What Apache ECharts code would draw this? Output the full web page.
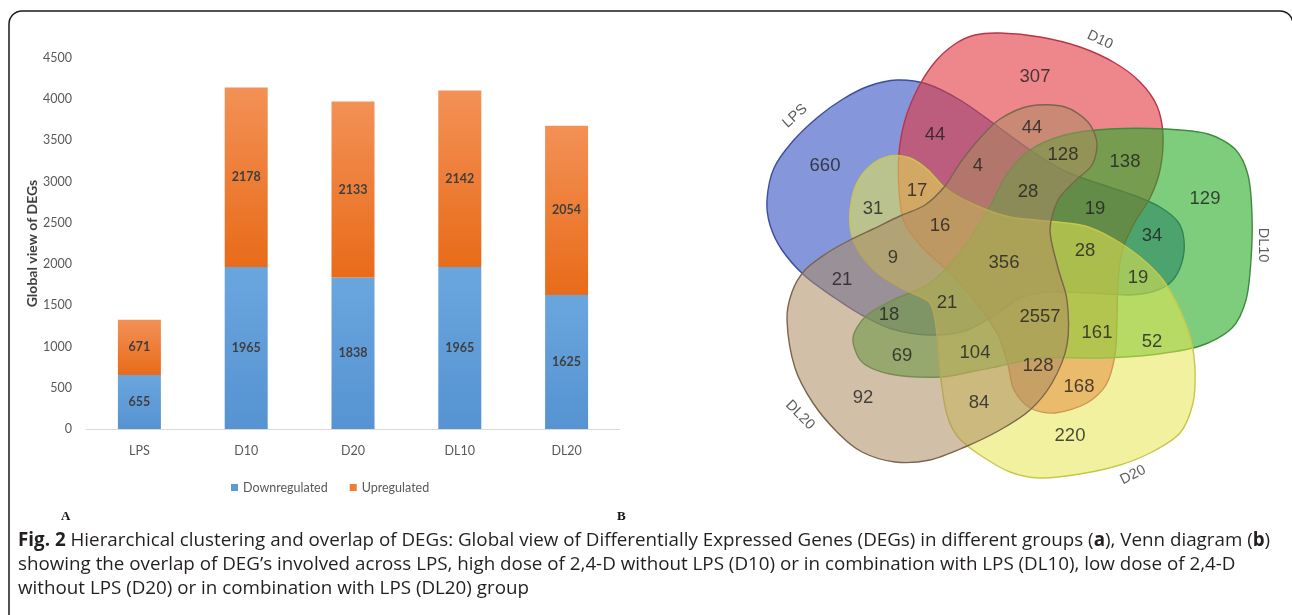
<!DOCTYPE html>
<html>
<head>
<meta charset="utf-8">
<script src="https://cdn.jsdelivr.net/npm/echarts@6/dist/echarts.min.js"></script>
<style>
  html, body { margin: 0; padding: 0; background: #ffffff; }
  #chart { width: 1292px; height: 615px; }
</style>
</head>
<body>
<div id="chart"></div>
<script>
// ---- Panel A: number of DEGs per group ----
const groups = ['LPS', 'D10', 'D20', 'DL10', 'DL20'];
const downregulated = [655, 1965, 1838, 1965, 1625];
const upregulated = [671, 2178, 2133, 2142, 2054];
const yTickValues = [0, 500, 1000, 1500, 2000, 2500, 3000, 3500, 4000, 4500];

// ---- Panel B: five-set Venn diagram ----
const vennSets = ['LPS', 'D10', 'DL10', 'D20', 'DL20'];
const vennCounts = [660, 307, 129, 220, 92, 44, 4, 31, 17, 16, 9, 21, 18, 21, 69, 104, 84,
                    356, 44, 128, 138, 28, 19, 34, 28, 19, 2557, 161, 52, 128, 168];

// Where each Venn count is written (pixel-sized units of the hidden Venn axes)
const vennCountXY = [
  [825, 166], [1035, 77], [1205, 199], [1070, 436], [863, 398], [935, 135], [978, 166],
  [873, 209], [917, 191], [940, 226], [893, 258], [842, 280], [889, 315], [947, 303],
  [902, 356], [975, 353], [979, 403], [1004, 263], [1032, 128], [1063, 155], [1125, 162],
  [1028, 192], [1095, 209], [1152, 236], [1085, 251], [1138, 278], [1040, 317], [1097, 333],
  [1152, 342], [1038, 366], [1079, 387]
];
// Set-name placement and text rotation (degrees)
const vennNameXY = [[795, 116], [1100, 40], [1263, 245], [1133, 475], [800, 415]];
const vennNameRotate = [42, -25, -90, 27, -45];

// Outline of each set, traced clockwise (same units as the Venn axes)
const vennOutlines = [
  // LPS
  [[767, 200], [774, 168], [793, 141], [818, 117], [843, 99], [869, 86], [897, 80], [927, 84],
   [960, 100], [993, 123], [1030, 150], [1067, 172], [1100, 184], [1133, 195], [1160, 207],
   [1178, 222], [1184, 240], [1182, 262], [1172, 281], [1155, 291], [1130, 295], [1090, 293],
   [1050, 292], [1020, 298], [995, 315], [965, 331], [930, 335], [892, 329], [860, 314],
   [835, 298], [805, 276], [782, 250], [770, 225]],
  // D10
  [[955, 44], [975, 35], [1000, 33], [1040, 37], [1080, 47], [1115, 63], [1140, 82], [1157, 106],
   [1163, 135], [1160, 170], [1150, 198], [1135, 222], [1123, 248], [1118, 280], [1117, 320],
   [1115, 355], [1106, 385], [1087, 403], [1055, 413], [1030, 408], [1014, 390], [1008, 365],
   [998, 335], [978, 305], [950, 273], [922, 247], [904, 222], [899, 190], [899, 153],
   [905, 120], [918, 88], [935, 62]],
  // DL10
  [[853, 338], [866, 316], [893, 300], [930, 283], [962, 250], [988, 210], [1007, 174],
   [1030, 150], [1065, 135], [1110, 129], [1165, 129], [1208, 134], [1235, 149], [1248, 175],
   [1252, 215], [1251, 260], [1246, 300], [1232, 328], [1200, 346], [1150, 355], [1100, 358],
   [1040, 358], [1000, 366], [975, 371], [940, 377], [890, 374], [862, 362]],
  // D20
  [[850, 212], [856, 185], [870, 166], [890, 156], [910, 158], [928, 170], [945, 188],
   [975, 205], [1010, 217], [1057, 222], [1085, 226], [1112, 238], [1140, 257], [1163, 280],
   [1180, 310], [1191, 340], [1195, 370], [1193, 403], [1180, 433], [1152, 452], [1120, 465],
   [1080, 474], [1040, 478], [1010, 472], [980, 455], [958, 437], [947, 415], [941, 380],
   [937, 335], [930, 303], [905, 290], [880, 275], [862, 256], [852, 236]],
  // DL20
  [[787, 320], [792, 292], [805, 270], [827, 253], [850, 240], [873, 229], [900, 216],
   [925, 205], [945, 186], [960, 163], [980, 138], [1000, 119], [1030, 106], [1065, 107],
   [1088, 122], [1097, 143], [1092, 165], [1075, 181], [1058, 200], [1050, 230], [1058, 268],
   [1067, 300], [1067, 345], [1052, 383], [1030, 410], [1000, 430], [965, 447], [930, 460],
   [895, 462], [862, 452], [838, 433], [813, 403], [795, 368]]
];
const vennFill = ['rgba(52,82,193,0.6)', 'rgba(227,55,63,0.6)', 'rgba(38,172,38,0.6)',
                  'rgba(230,230,80,0.55)', 'rgba(172,138,97,0.55)'];
const vennStroke = ['#3b4e9e', '#b8364a', '#3d8c3d', '#c9c74a', '#7b654d'];

const barFont = 'Lato, "Open Sans", sans-serif';
const vennFont = '"Liberation Sans", Arial, sans-serif';
const blueFill = new echarts.graphic.LinearGradient(0, 0, 0, 1, [
  { offset: 0, color: '#6aa6de' }, { offset: 1, color: '#5593d2' }]);
const orangeFill = new echarts.graphic.LinearGradient(0, 0, 0, 1, [
  { offset: 0, color: '#f39156' }, { offset: 1, color: '#e86b19' }]);
const barLabel = {
  show: true, position: 'inside', color: '#3f3f3f', fontFamily: barFont,
  fontSize: 12.5, fontWeight: 'bold'
};

const chart = echarts.init(document.getElementById('chart'), null, { renderer: 'canvas' });

chart.setOption({
  animation: false,
  backgroundColor: '#ffffff',
  grid: [
    { left: 86, top: 58, width: 534, height: 371 },
    { left: 740, top: 0, width: 550, height: 615 }
  ],
  xAxis: [
    {
      type: 'category', gridIndex: 0, data: groups,
      axisLine: { lineStyle: { color: '#d9d9d9', width: 1 } },
      axisTick: { show: false },
      axisLabel: { color: '#595959', fontFamily: barFont, fontSize: 12.5, margin: 15 }
    },
    { type: 'value', gridIndex: 1, min: 740, max: 1290, show: false }
  ],
  yAxis: [
    {
      type: 'value', gridIndex: 0,
      min: yTickValues[0], max: yTickValues[yTickValues.length - 1],
      interval: yTickValues[1] - yTickValues[0],
      splitLine: { show: false }, axisLine: { show: false }, axisTick: { show: false },
      axisLabel: {
        color: '#595959', fontFamily: barFont, fontSize: 12.5, margin: 14,
        formatter: function (v) { return String(v); }
      },
      name: 'Global view of DEGs', nameLocation: 'middle', nameGap: 46, nameRotate: 90,
      nameTextStyle: { color: '#404040', fontFamily: barFont, fontSize: 14, fontWeight: 'bold' }
    },
    { type: 'value', gridIndex: 1, min: 0, max: 615, inverse: true, show: false }
  ],
  legend: {
    data: [
      { name: 'Downregulated', itemStyle: { color: '#5b9bd5' } },
      { name: 'Upregulated', itemStyle: { color: '#ed7d31' } }
    ],
    left: 226, top: 476, icon: 'rect', itemWidth: 7, itemHeight: 7, itemGap: 22,
    textStyle: { color: '#595959', fontFamily: barFont, fontSize: 12.5 }
  },
  series: [
    {
      name: 'Downregulated', type: 'bar', stack: 'deg', xAxisIndex: 0, yAxisIndex: 0,
      data: downregulated, barWidth: 43, itemStyle: { color: blueFill }, label: barLabel
    },
    {
      name: 'Upregulated', type: 'bar', stack: 'deg', xAxisIndex: 0, yAxisIndex: 0,
      data: upregulated, barWidth: 43, itemStyle: { color: orangeFill }, label: barLabel
    },
    {
      name: 'Venn sets', type: 'custom', xAxisIndex: 1, yAxisIndex: 1, clip: false, z: 2,
      data: vennSets.map(function (s, i) { return [vennOutlines[i][0][0], vennOutlines[i][0][1], i]; }),
      renderItem: function (params, api) {
        const i = params.dataIndex;
        const pts = vennOutlines[i].map(function (p) { return api.coord(p); });
        return {
          type: 'polygon',
          shape: { points: pts, smooth: 0.3 },
          style: { fill: vennFill[i], stroke: vennStroke[i], lineWidth: 1.4 }
        };
      }
    },
    {
      name: 'Venn names', type: 'scatter', xAxisIndex: 1, yAxisIndex: 1, z: 3,
      symbolSize: 0, silent: true,
      data: vennSets.map(function (s, i) {
        return {
          value: [vennNameXY[i][0], vennNameXY[i][1]], name: s,
          label: { rotate: vennNameRotate[i] }
        };
      }),
      label: {
        show: true, position: 'inside', formatter: '{b}', color: '#333333',
        fontFamily: vennFont, fontSize: 14.5
      }
    },
    {
      name: 'Venn counts', type: 'scatter', xAxisIndex: 1, yAxisIndex: 1, z: 4,
      symbolSize: 0, silent: true,
      data: vennCounts.map(function (v, i) { return [vennCountXY[i][0], vennCountXY[i][1], v]; }),
      label: {
        show: true, position: 'inside', formatter: function (p) { return p.value[2]; },
        color: '#1e1e1e', fontFamily: vennFont, fontSize: 18.5
      }
    }
  ],
  graphic: [
    {
      type: 'rect', z: 10, silent: true,
      shape: { x: 9, y: 11, width: 1284, height: 700, r: [13, 13, 0, 0] },
      style: { fill: 'none', stroke: '#1a1a1a', lineWidth: 1.5 }
    },
    {
      type: 'text', left: 61, top: 510, z: 10,
      style: { text: 'A', fill: '#111', font: 'bold 13px "Liberation Serif", "DejaVu Serif", serif' }
    },
    {
      type: 'text', left: 617, top: 510, z: 10,
      style: { text: 'B', fill: '#111', font: 'bold 13px "Liberation Serif", "DejaVu Serif", serif' }
    },
    {
      type: 'text', left: 18, top: 529, z: 10,
      style: {
        text: '{b|Fig. 2} Hierarchical clustering and overlap of DEGs: Global view of Differentially Expressed Genes (DEGs) in different groups ({b|a}), Venn diagram ({b|b})\n' +
              'showing the overlap of DEG\u2019s involved across LPS, high dose of 2,4-D without LPS (D10) or in combination with LPS (DL10), low dose of 2,4-D\n' +
              'without LPS (D20) or in combination with LPS (DL20) group',
        fill: '#231f20', fontFamily: '"Open Sans", sans-serif', fontSize: 18.8, lineHeight: 24,
        rich: {
          b: { fontWeight: 'bold', fontFamily: '"Open Sans", sans-serif', fontSize: 18.8, lineHeight: 24, fill: '#231f20' }
        }
      }
    }
  ]
});
</script>
</body>
</html>
